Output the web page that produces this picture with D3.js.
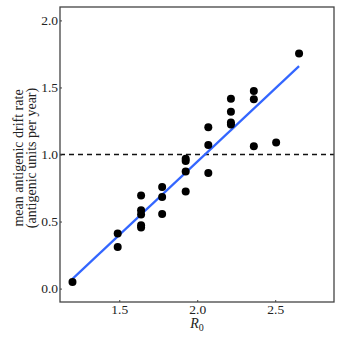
<!DOCTYPE html>
<html>
<head>
<meta charset="utf-8">
<script src="https://cdn.jsdelivr.net/npm/d3@7"></script>
<style>
  body { margin: 0; background: #fff; }
  svg text { font-family: "Times New Roman", "Liberation Serif", serif; fill: #222; }
</style>
</head>
<body>
<script>
// SVG size
var width = 342,
    height = 342;

// R0 values and mean antigenic drift rate
var r0 = [1.20, 1.49, 1.49, 1.64, 1.64, 1.64, 1.64, 1.64,
          1.775, 1.775, 1.775, 1.926, 1.926, 1.926, 1.926,
          2.071, 2.071, 2.071, 2.216, 2.216, 2.216, 2.216,
          2.363, 2.363, 2.363, 2.506, 2.653];
var driftRate = [0.05, 0.41, 0.31, 0.695, 0.584, 0.552, 0.473, 0.455,
                 0.758, 0.683, 0.557, 0.968, 0.951, 0.874, 0.725,
                 1.204, 1.070, 0.862, 1.416, 1.319, 1.238, 1.223,
                 1.473, 1.412, 1.062, 1.089, 1.753];
var xTicks = [1.5, 2.0, 2.5];
var yTicks = [0.0, 0.5, 1.0, 1.5, 2.0];
var threshold = 1.0;

var data = r0.map(function(d, i) { return {r0: d, rate: driftRate[i]}; });

var margin = {left: 60, top: 7, right: 8, bottom: 40};

var svg = d3.select("body").append("svg")
  .attr("width", width)
  .attr("height", height);

// Scales
var x = d3.scaleLinear()
  .domain([1.12, 2.877])
  .range([margin.left, width - margin.right]);
var y = d3.scaleLinear()
  .domain([-0.1, 2.1])
  .range([height - margin.bottom, margin.top]);

// Least squares fit for the blue line
var mx = d3.mean(data, function(d) { return d.r0; }),
    my = d3.mean(data, function(d) { return d.rate; });
var slope = d3.sum(data, function(d) { return (d.r0 - mx) * (d.rate - my); }) /
            d3.sum(data, function(d) { return (d.r0 - mx) * (d.r0 - mx); });
var intercept = my - slope * mx;
var xExt = d3.extent(r0);

// Dashed threshold line
svg.append("line")
  .attr("x1", x.range()[0]).attr("x2", x.range()[1])
  .attr("y1", y(threshold)).attr("y2", y(threshold))
  .attr("stroke", "#111")
  .attr("stroke-width", 1.3)
  .attr("stroke-dasharray", "5,4");

// Regression line
svg.append("line")
  .attr("x1", x(xExt[0])).attr("y1", y(intercept + slope * xExt[0]))
  .attr("x2", x(xExt[1])).attr("y2", y(intercept + slope * xExt[1]))
  .attr("stroke", "#3366ff")
  .attr("stroke-width", 2.2);

// Points
svg.selectAll("circle")
  .data(data)
  .enter()
  .append("circle")
  .attr("cx", function(d) { return x(d.r0); })
  .attr("cy", function(d) { return y(d.rate); })
  .attr("r", 4)
  .attr("fill", "#000");

// Axes with small inward ticks
var xAxis = d3.axisBottom(x)
  .tickValues(xTicks)
  .tickSize(-2)
  .tickPadding(2)
  .tickFormat(d3.format(".1f"));
var yAxis = d3.axisLeft(y)
  .tickValues(yTicks)
  .tickSize(-2)
  .tickPadding(2)
  .tickFormat(d3.format(".1f"));

var gx = svg.append("g")
  .attr("transform", "translate(0," + (height - margin.bottom) + ")")
  .call(xAxis);
var gy = svg.append("g")
  .attr("transform", "translate(" + margin.left + ",0)")
  .call(yAxis);

[gx, gy].forEach(function(g) {
  g.attr("font-family", null).attr("font-size", null);
  g.select(".domain").remove();
  g.selectAll(".tick line").attr("stroke", "#444");
  g.selectAll(".tick text")
    .attr("fill", "#333")
    .style("font-family", "\"Times New Roman\", \"Liberation Serif\", serif")
    .style("font-size", "13.5px");
});

// Panel border
svg.append("rect")
  .attr("x", margin.left)
  .attr("y", margin.top)
  .attr("width", width - margin.left - margin.right)
  .attr("height", height - margin.top - margin.bottom)
  .attr("fill", "none")
  .attr("stroke", "#444")
  .attr("stroke-width", 1.3);

// X label: R0
var xl = svg.append("text")
  .attr("x", (margin.left + width - margin.right) / 2)
  .attr("y", 328)
  .attr("text-anchor", "middle")
  .style("font-size", "14px");
xl.append("tspan").style("font-style", "italic").text("R");
xl.append("tspan").attr("dy", 3).style("font-size", "10px").text("0");

// Y label (two lines)
var cy = 158;
svg.append("text")
  .attr("transform", "translate(23," + cy + ") rotate(-90)")
  .attr("text-anchor", "middle")
  .style("font-size", "14px")
  .text("mean antigenic drift rate");
svg.append("text")
  .attr("transform", "translate(36," + cy + ") rotate(-90)")
  .attr("text-anchor", "middle")
  .style("font-size", "14px")
  .text("(antigenic units per year)");
</script>
</body>
</html>
